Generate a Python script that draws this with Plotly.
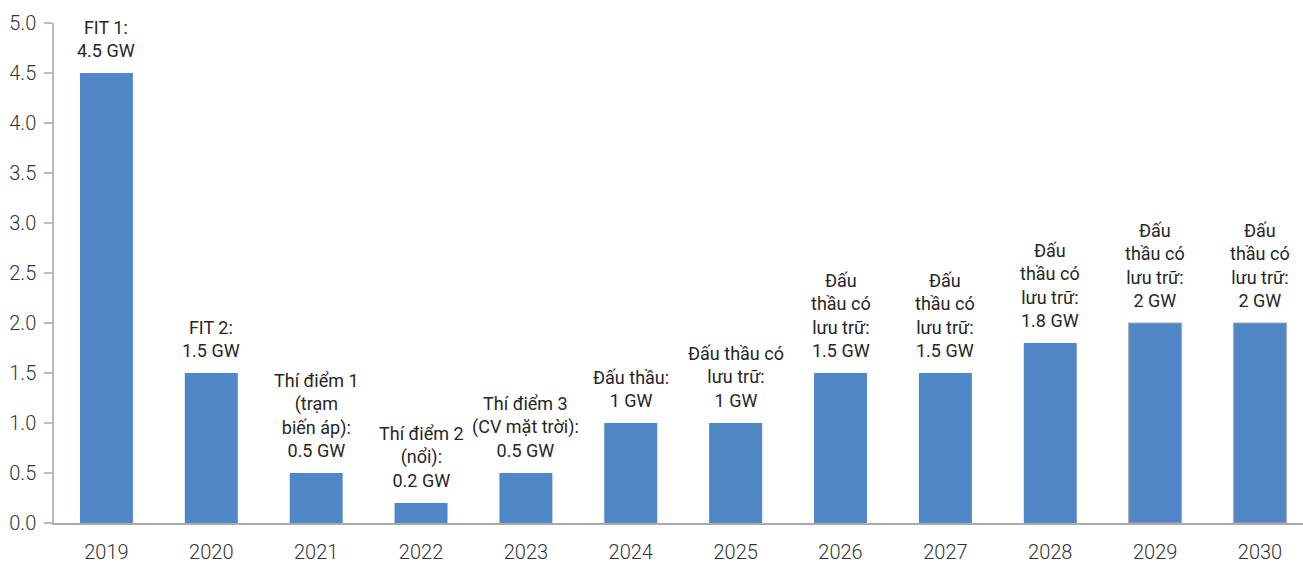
import plotly.graph_objects as go

years = ["2019", "2020", "2021", "2022", "2023", "2024", "2025", "2026", "2027", "2028", "2029", "2030"]
capacity_gw = [4.5, 1.5, 0.5, 0.2, 0.5, 1.0, 1.0, 1.5, 1.5, 1.8, 2.0, 2.0]
labels = [
    "FIT 1:<br>4.5 GW",
    "FIT 2:<br>1.5 GW",
    "Thí điểm 1<br>(trạm<br>biến áp):<br>0.5 GW",
    "Thí điểm 2<br>(nổi):<br>0.2 GW",
    "Thí điểm 3<br>(CV mặt trời):<br>0.5 GW",
    "Đấu thầu:<br>1 GW",
    "Đấu thầu có<br>lưu trữ:<br>1 GW",
    "Đấu<br>thầu có<br>lưu trữ:<br>1.5 GW",
    "Đấu<br>thầu có<br>lưu trữ:<br>1.5 GW",
    "Đấu<br>thầu có<br>lưu trữ:<br>1.8 GW",
    "Đấu<br>thầu có<br>lưu trữ:<br>2 GW",
    "Đấu<br>thầu có<br>lưu trữ:<br>2 GW",
]
y_ticks = [0.0, 0.5, 1.0, 1.5, 2.0, 2.5, 3.0, 3.5, 4.0, 4.5, 5.0]

BAR = "#4F86C6"
FONT = "Roboto"

line_w = [0] * 10 + [1.2, 1.2]

fig = go.Figure(go.Bar(
    x=years, y=capacity_gw,
    marker=dict(color=BAR, line=dict(color="#AAAAAA", width=line_w)),
    width=0.505,
    hoverinfo="skip",
))

for i, (v, t) in enumerate(zip(capacity_gw, labels)):
    fig.add_annotation(x=i, y=v, xref="x", yref="y", text=t, showarrow=False,
                       yanchor="bottom", xanchor="center",
                       yshift=10, font=dict(family=FONT, size=18, color="#262626"),
                       align="center")

fig.update_layout(
    width=1303, height=564,
    margin=dict(l=54, r=0, t=23, b=41),
    plot_bgcolor="white", paper_bgcolor="white",
    showlegend=False,
    font=dict(family=FONT, size=20, color="#333333"),
)
fig.update_xaxes(
    type="category", range=[-0.5, 11.41],
    showline=True, linecolor="#AAAAAA", linewidth=1.5,
    ticks="", showgrid=False, tickfont=dict(size=20, color="#333333", weight=300),
    ticklabelstandoff=10, automargin=False,
)
fig.update_yaxes(
    range=[0, 5.0], tickvals=y_ticks, tickformat=".1f",
    showline=True, linecolor="#BBBBBB", linewidth=1.5,
    ticks="outside", ticklen=8, tickcolor="#BBBBBB", tickwidth=1.5,
    showgrid=False, zeroline=False, tickfont=dict(size=20, color="#333333", weight=300),
    ticklabelstandoff=4, automargin=False,
)

fig.write_html("out.html")
